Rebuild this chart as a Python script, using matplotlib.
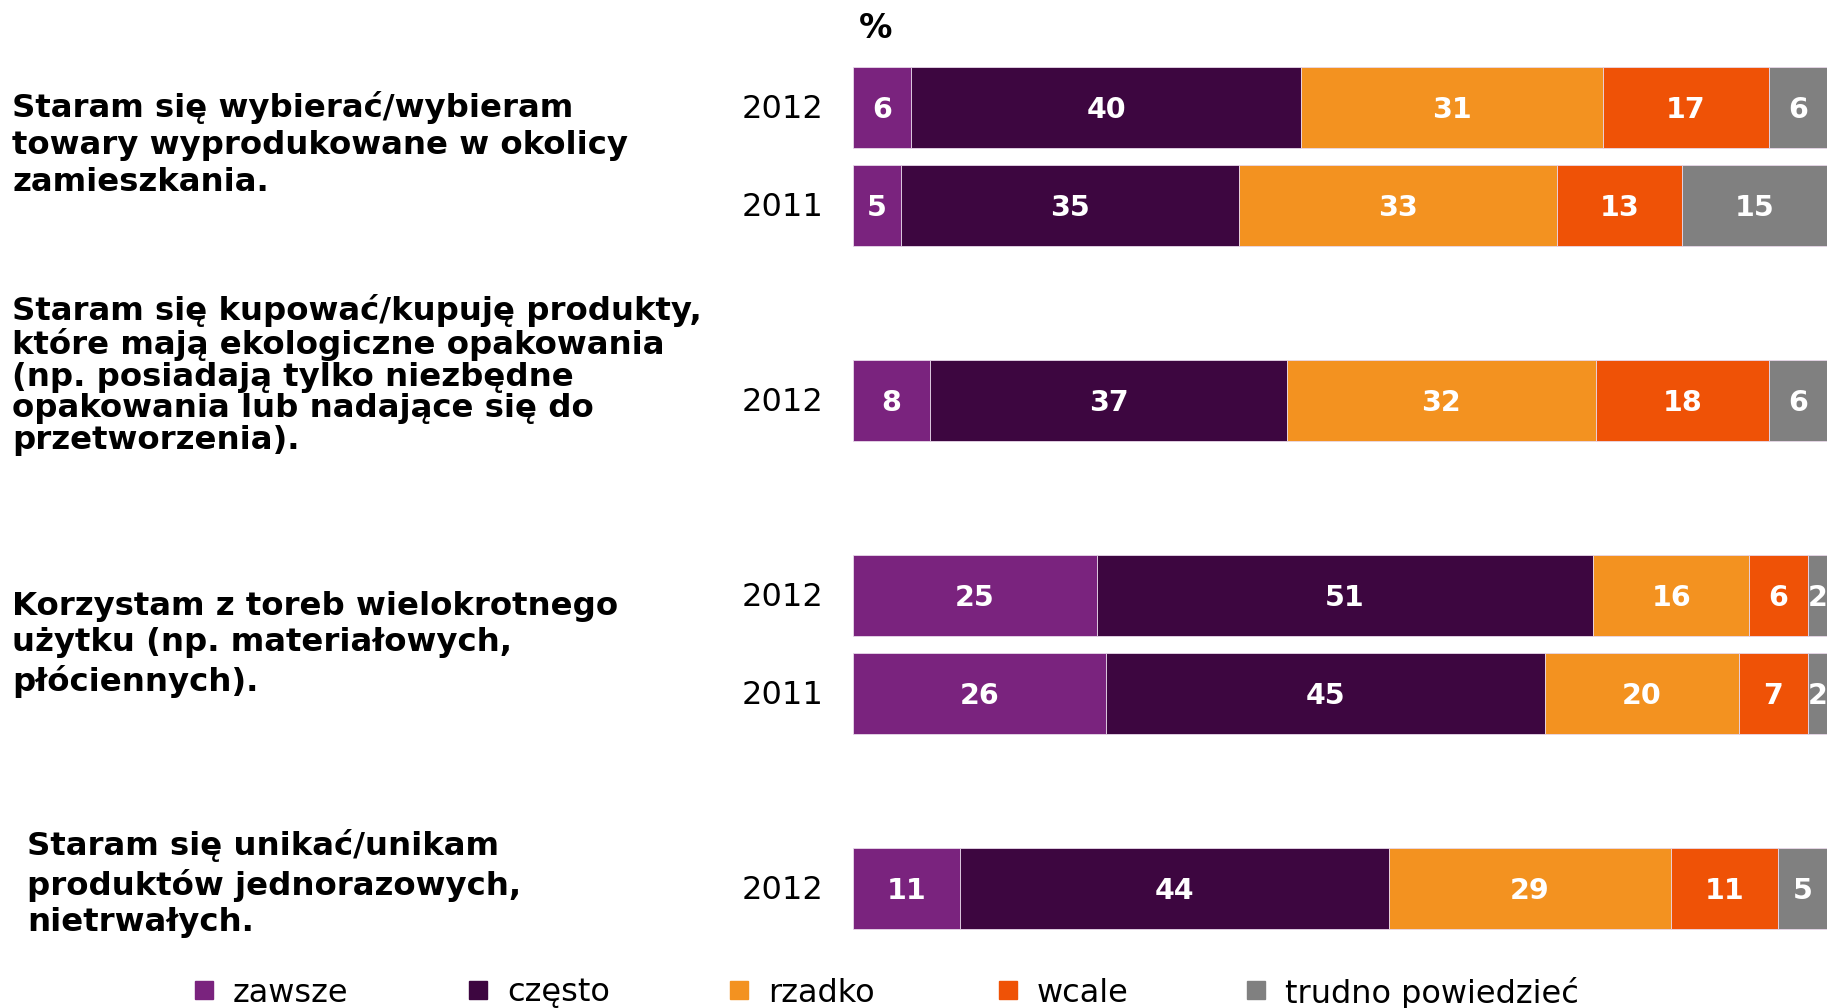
import numpy as np
import matplotlib.pyplot as plt

plt.rcParams['font.family'] = ['DejaVu Sans']

# dane
kategorie = ['zawsze', 'często', 'rzadko', 'wcale', 'trudno powiedzieć']
kolory = ['#7a237e', '#3d0640', '#f39220', '#ef5206', '#808080']
lata = ['2012', '2011', '2012', '2012', '2011', '2012']
pozycje = [0, 1, 3, 5, 6, 8]

zawsze = [6, 5, 8, 25, 26, 11]
czesto = [40, 35, 37, 51, 45, 44]
rzadko = [31, 33, 32, 16, 20, 29]
wcale = [17, 13, 18, 6, 7, 11]
trudno = [6, 15, 6, 2, 2, 5]

pytania = [
    'Staram się wybierać/wybieram\ntowary wyprodukowane w okolicy\nzamieszkania.',
    'Staram się kupować/kupuję produkty,\nktóre mają ekologiczne opakowania\n(np. posiadają tylko niezbędne\nopakowania lub nadające się do\nprzetworzenia).',
    'Korzystam z toreb wielokrotnego\nużytku (np. materiałowych,\npłóciennych).',
    'Staram się unikać/unikam\nproduktów jednorazowych,\nnietrwałych.',
]

W, H = 1827, 1008
fig = plt.figure(figsize=(W / 100, H / 100), dpi=100)
ax = fig.add_axes([853 / W, 1 - 937 / H, 1 - 853 / W, (937 - 59) / H])

serie = [np.array(s, dtype=float) for s in [zawsze, czesto, rzadko, wcale, trudno]]
suma = np.sum(serie, axis=0)  # wiersze sumujące się do 101 skalowane do 100%

lewo = np.zeros(len(pozycje))
for wart, kol, nazwa in zip(serie, kolory, kategorie):
    szer = wart / suma * 100
    ax.barh(pozycje, szer, left=lewo, height=0.83, color=kol,
            edgecolor='#e8d8ea', linewidth=0.6, label=nazwa)
    for y, l, s, v in zip(pozycje, lewo, szer, wart):
        ax.text(l + s / 2, y + 0.025, str(int(v)), ha='center', va='center',
                color='white', fontsize=20.5, fontweight='bold')
    lewo += szer

ax.set_xlim(0, 100)
ax.set_ylim(8.5, -0.5)
ax.axis('off')

# lata
for y, rok in zip(pozycje, lata):
    ax.text(-3.0, y + 0.02, rok, ha='right', va='center', fontsize=23,
            transform=ax.transData, clip_on=False)

fig.text(876 / W, 1 - 29 / H, '%', ha='center', va='center',
         fontsize=24, fontweight='bold')

# opisy pytań
opisy_xy = [(12, 145, 1.25), (12, 375, 1.03), (12, 644, 1.24), (27, 884, 1.24)]
for tekst, (x, y, ls) in zip(pytania, opisy_xy):
    fig.text(x / W, 1 - y / H, tekst, ha='left', va='center',
             fontsize=23.3, fontweight='bold', linespacing=ls)

# legenda
leg_x = [204, 478, 739, 1008, 1256]
for x, kol, nazwa in zip(leg_x, kolory, kategorie):
    fig.patches.append(plt.Rectangle(((x - 9) / W, 1 - 999 / H), 18 / W, 18 / H,
                                     transform=fig.transFigure, color=kol))
    fig.text((x + 29) / W, 1 - 993 / H, nazwa, ha='left', va='center',
             fontsize=23)

fig.savefig('out.png', dpi=100)
